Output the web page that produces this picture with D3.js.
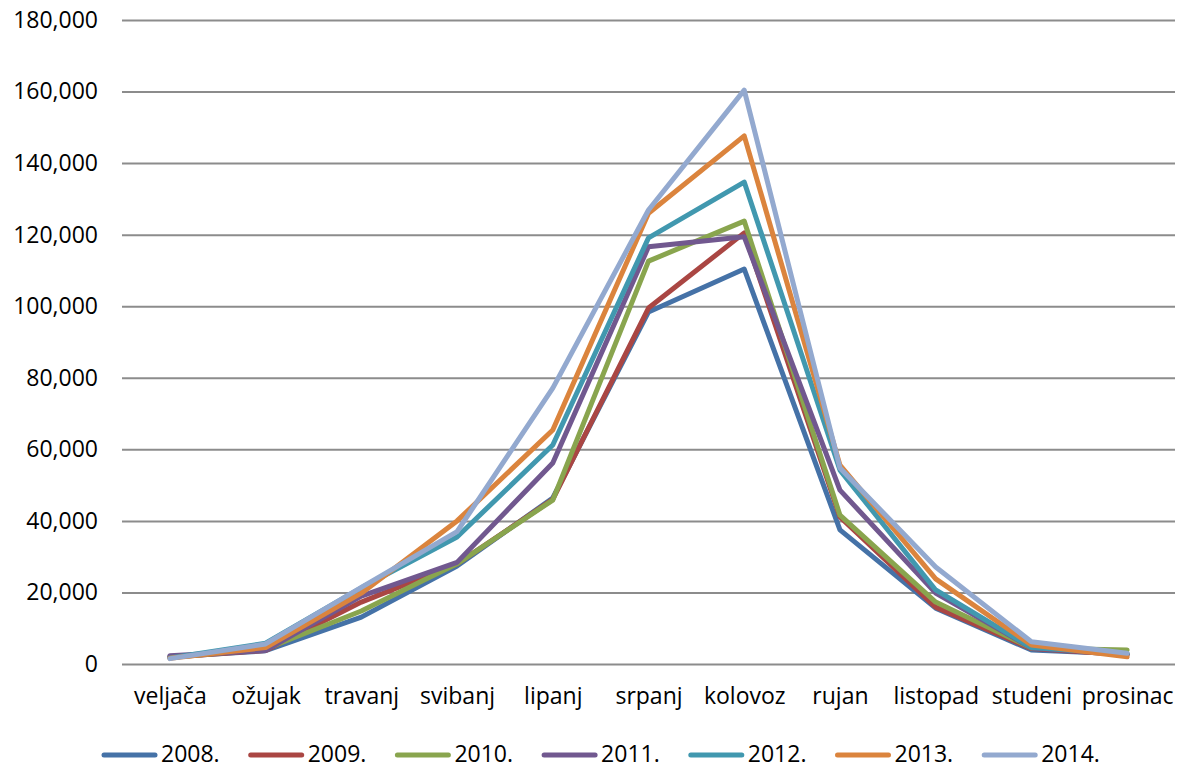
<!DOCTYPE html>
<html>
<head>
<meta charset="utf-8">
<script src="https://cdn.jsdelivr.net/npm/d3@7"></script>
<style>
  body { margin: 0; background: #fff; }
  svg { display: block; }
</style>
</head>
<body>
<svg id="chart" width="1182" height="769"></svg>
<script>
// months shown on the x axis
let months = ["veljača", "ožujak", "travanj", "svibanj", "lipanj", "srpanj",
              "kolovoz", "rujan", "listopad", "studeni", "prosinac"];

let years = ["2008.", "2009.", "2010.", "2011.", "2012.", "2013.", "2014."];

// values, one array per year
let v2008 = [2000, 3700, 13100, 27400, 46400, 98400, 110400, 37500, 15600, 3900, 2800];
let v2009 = [1900, 3800, 17300, 28000, 46000, 99500, 120500, 41100, 15900, 4300, 2600];
let v2010 = [1800, 4200, 14800, 28000, 45800, 112600, 123800, 41600, 17300, 4500, 3900];
let v2011 = [2300, 3800, 19000, 28400, 56200, 116600, 119400, 48600, 19800, 4500, 2700];
let v2012 = [1700, 5800, 21300, 35500, 61200, 119100, 134700, 54200, 20700, 4600, 2800];
let v2013 = [1600, 4600, 19800, 40000, 65400, 126000, 147600, 55600, 23800, 5300, 2000];
let v2014 = [1500, 5600, 21400, 37000, 77100, 126900, 160400, 54800, 27100, 6200, 3000];

let yTicks = [0, 20000, 40000, 60000, 80000, 100000, 120000, 140000, 160000, 180000];

let colors = ["#4572A7", "#AA4643", "#89A54E", "#71588F", "#4198AF", "#DB843D", "#93A9CF"];

let series = [v2008, v2009, v2010, v2011, v2012, v2013, v2014];

let margin = {top: 20, right: 7, bottom: 105, left: 122};
let width = 1182 - margin.left - margin.right;
let height = 769 - margin.top - margin.bottom;

let svg = d3.select("#chart");
let g = svg.append("g")
  .attr("transform", "translate(" + margin.left + "," + margin.top + ")");

let x = d3.scalePoint()
  .domain(months)
  .range([0, width])
  .padding(0.5);

let y = d3.scaleLinear()
  .domain([0, 180000])
  .range([height, 0]);

// gridlines + y labels
let yAxis = g.append("g")
  .call(d3.axisLeft(y)
    .tickValues(yTicks)
    .tickSize(-width)
    .tickPadding(24)
    .tickFormat(d3.format(",")));
yAxis.select(".domain").remove();
yAxis.selectAll(".tick line")
  .attr("stroke", "#8c8c8c")
  .attr("stroke-width", 2);
yAxis.selectAll(".tick text")
  .attr("fill", "#000")
  .style("font-family", "'Open Sans', sans-serif")
  .style("font-size", "23px");

// x labels
let xAxis = g.append("g")
  .attr("transform", "translate(0," + height + ")")
  .call(d3.axisBottom(x).tickSize(0).tickPadding(24));
xAxis.select(".domain").remove();
xAxis.selectAll(".tick text")
  .attr("fill", "#000")
  .style("font-family", "'Open Sans', sans-serif")
  .style("font-size", "23px");

let line = d3.line()
  .x(function(d, i) { return x(months[i]); })
  .y(function(d) { return y(d); });

g.selectAll(".series")
  .data(series)
  .enter()
  .append("path")
    .attr("class", "series")
    .attr("d", line)
    .attr("fill", "none")
    .attr("stroke", function(d, i) { return colors[i]; })
    .attr("stroke-width", 5)
    .attr("stroke-linejoin", "round")
    .attr("stroke-linecap", "round");

// legend along the bottom
let legend = svg.append("g")
  .attr("transform", "translate(102,755)");

let item = legend.selectAll(".item")
  .data(years)
  .enter()
  .append("g")
    .attr("class", "item")
    .attr("transform", function(d, i) { return "translate(" + (i * 146.7) + ",0)"; });

item.append("line")
  .attr("x1", 2).attr("x2", 53)
  .attr("y1", 0).attr("y2", 0)
  .attr("stroke", function(d, i) { return colors[i]; })
  .attr("stroke-width", 5)
  .attr("stroke-linecap", "round");

item.append("text")
  .attr("x", 59)
  .attr("y", 7)
  .style("font-family", "'Open Sans', sans-serif")
  .style("font-size", "23px")
  .text(function(d) { return d; });
</script>
</body>
</html>
